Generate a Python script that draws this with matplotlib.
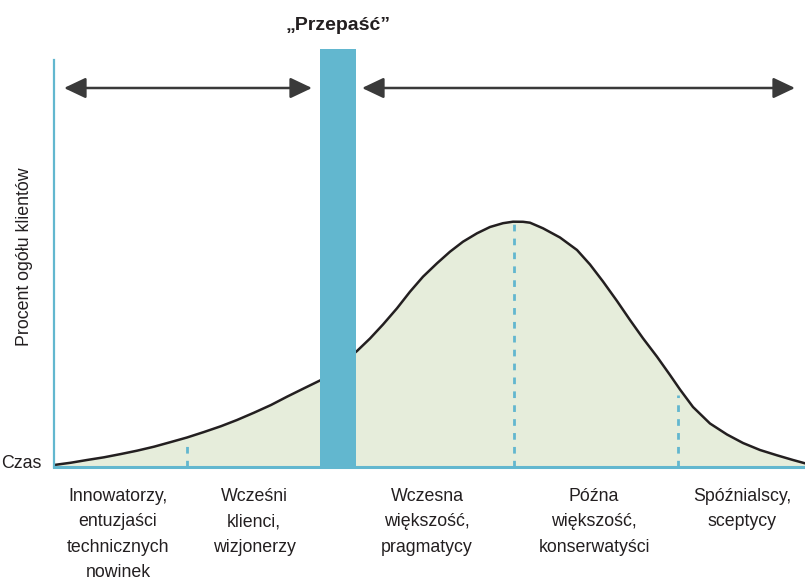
import matplotlib
matplotlib.use("Agg")
import matplotlib.pyplot as plt
from matplotlib.patches import FancyArrowPatch

plt.rcParams['font.family'] = ['Liberation Sans', 'DejaVu Sans']

# krzywa adopcji (czas -> procent ogółu klientów)
czas = [0, 17, 33, 50, 67, 83, 100, 117, 133, 150, 167, 183, 200, 217, 233,
        250, 267, 303, 316, 329, 343, 356, 369, 383, 396, 409, 423, 436, 449,
        459, 469, 476, 489, 506, 523, 536, 549, 563, 576, 589, 603, 616, 626,
        639, 656, 673, 689, 706, 723, 739, 751]
procent = [2, 4.3, 7, 9.7, 13, 16.3, 20.3, 25, 29.5, 35, 40.8, 47, 54.3, 62,
           70.3, 78.7, 87, 116, 128.5, 142.5, 158.7, 175.3, 190.3, 203.7,
           215.3, 225.3, 233.7, 240, 243.8, 245.3, 245.2, 244.3, 238.7, 229.5,
           217, 202.5, 185.5, 166, 147, 128.7, 110.3, 92, 77.5, 60, 43.5,
           32.5, 24, 17, 11.7, 7, 3.7]

# granice grup (linie przerywane)
granice_x = [133, 460, 624]
granice_h = [27, 245, 72]

# przepaść
przepasc_x = (266, 302)
przepasc_h = 418

etykiety = ["Innowatorzy,\nentuzjaści\ntechnicznych\nnowinek",
            "Wcześni\nklienci,\nwizjonerzy",
            "Wczesna\nwiększość,\npragmatycy",
            "Późna\nwiększość,\nkonserwatyści",
            "Spóźnialscy,\nsceptycy"]
etykiety_x = [64, 200, 373, 540, 688]

niebieski = '#62b7cf'
fig = plt.figure(figsize=(8.05, 5.85), dpi=100)
ax = fig.add_axes([54 / 805, 118 / 585, 751 / 805, 467 / 585])
ax.set_xlim(0, 751)
ax.set_ylim(0, 467)
ax.axis('off')

ax.fill_between(czas, procent, 0, color='#e6eddb', lw=0, zorder=1)
ax.plot(czas, procent, color='#231f20', lw=1.8, zorder=3,
        solid_joinstyle='round')

for x, h in zip(granice_x, granice_h):
    ax.plot([x, x], [0, h], color=niebieski, lw=2.0, ls=(0, (2.4, 2.6)), zorder=2)

ax.fill_between(przepasc_x, [przepasc_h, przepasc_h], 0, color=niebieski,
                lw=0, zorder=4)

# osie
ax.plot([0, 0], [0, 407], color=niebieski, lw=1.6, zorder=5, clip_on=False)
ax.plot([0, 751], [0, 0], color=niebieski, lw=2.2, zorder=5, clip_on=False)

# strzałki
for x0, x1 in [(10, 258), (308, 741)]:
    a = FancyArrowPatch((x0, 379), (x1, 379),
                        arrowstyle='<|-|>,head_length=0.95,head_width=0.45',
                        mutation_scale=14, color='#3a3a3a', lw=1.8,
                        shrinkA=0, shrinkB=0, zorder=5)
    ax.add_patch(a)

ax.text(284, 441, '„Przepaść”', ha='center', va='center', fontsize=14,
        fontweight='bold', color='#231f20', clip_on=False)

kw = dict(color='#231f20', fontsize=12.8, clip_on=False)
for x, t in zip(etykiety_x, etykiety):
    ax.text(x, -21, t, ha='center', va='top', linespacing=1.65, **kw)

ax.text(-12, 4, 'Czas', ha='right', va='center', **kw)
ax.text(-29, 210, 'Procent ogółu klientów', ha='center', va='center',
        rotation=90, **kw)

fig.savefig('out.png', dpi=100)
